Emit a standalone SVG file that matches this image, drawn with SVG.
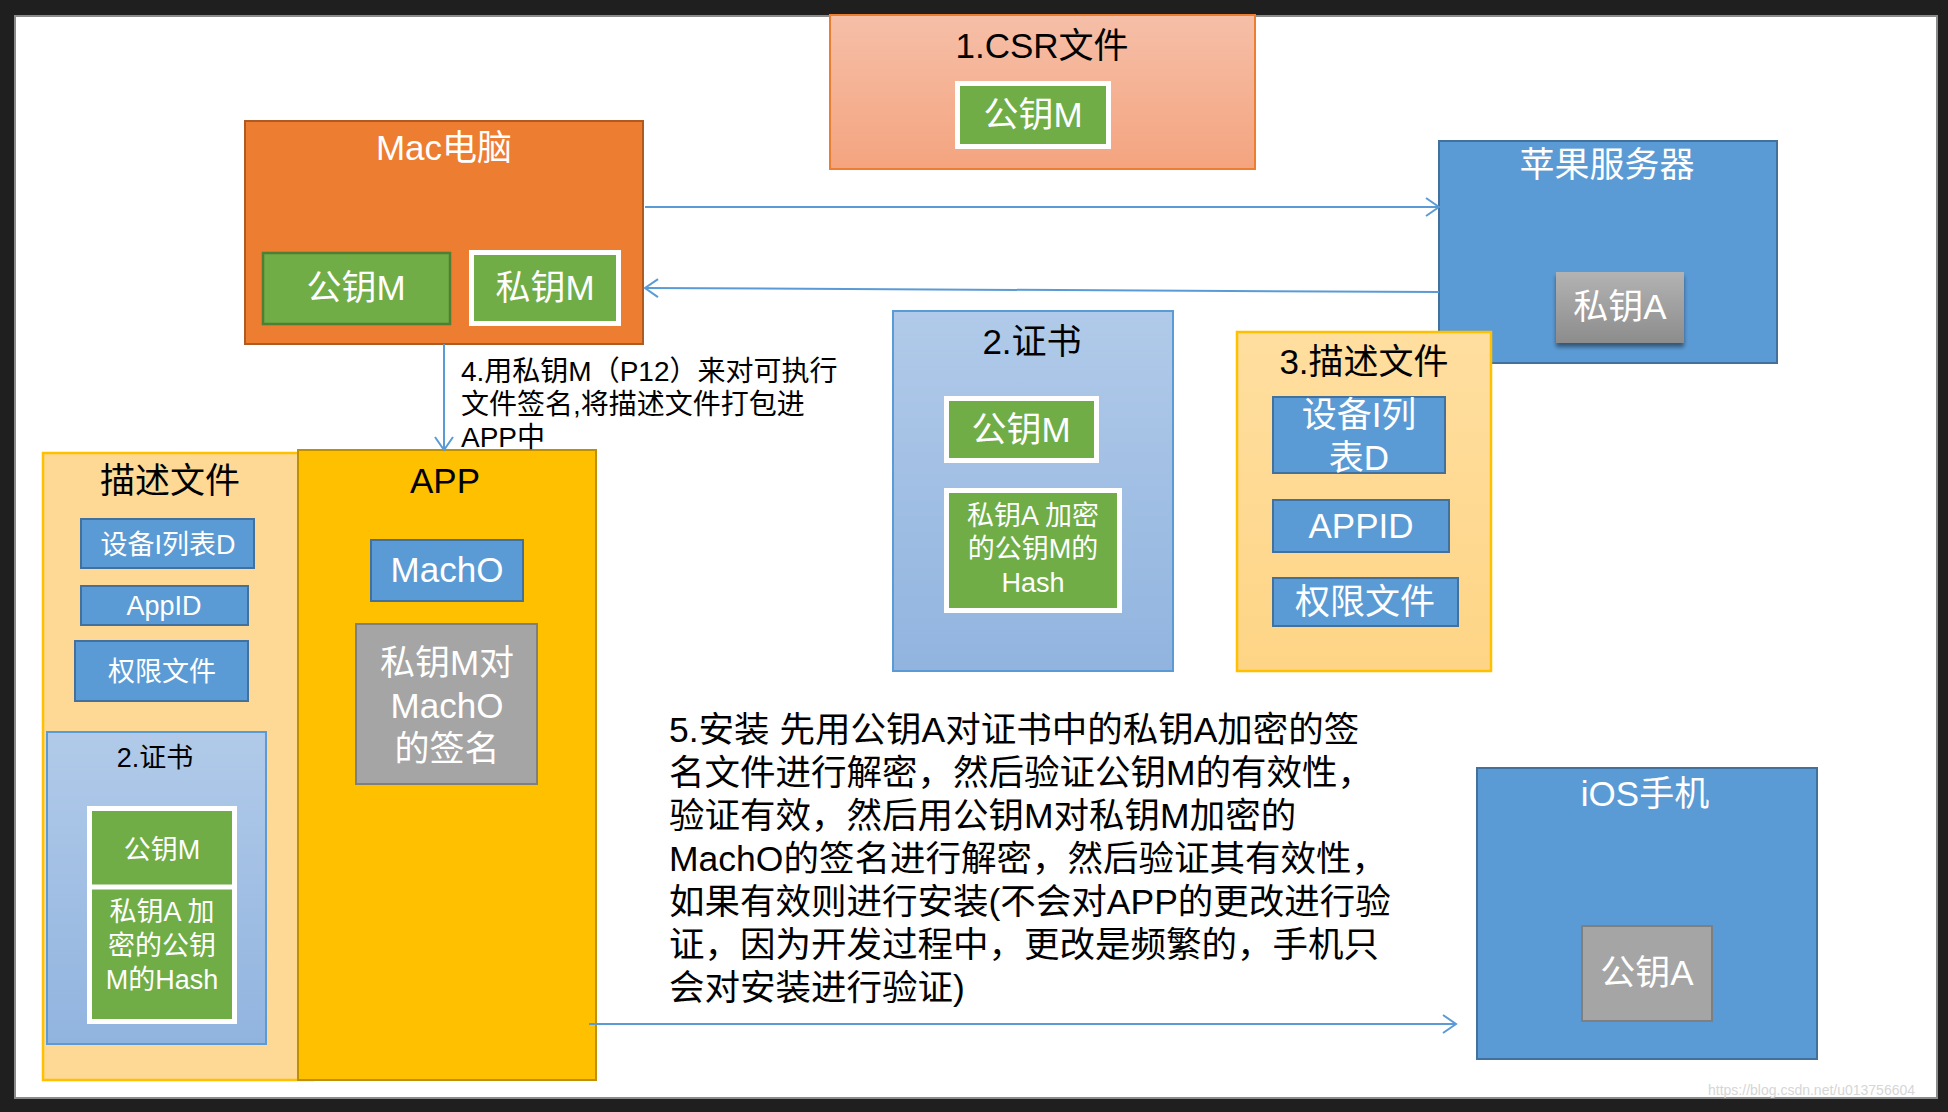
<svg xmlns="http://www.w3.org/2000/svg" width="1948" height="1112" viewBox="0 0 1948 1112">
<defs>
<style>
text{font-family:"Liberation Sans","Noto Sans CJK SC",sans-serif;text-anchor:middle}
.w{fill:#ffffff}
.k{fill:#000000}
.big{font-size:35px}
.sm{font-size:27px}
.blue{fill:#5b9bd5;stroke:#41719c;stroke-width:2}
.green{fill:#70ad47;stroke:#ffffff;stroke-width:5}
.gray{fill:#a5a5a5;stroke:#7f7f7f;stroke-width:2}
.conn{stroke:#5b9bd5;stroke-width:2;fill:none;marker-end:url(#arr)}
</style>
<marker id="arr" markerUnits="userSpaceOnUse" markerWidth="18" markerHeight="20" refX="15" refY="10" orient="auto">
<path d="M2,1 L15,10 L2,19" fill="none" stroke="#5b9bd5" stroke-width="2"/>
</marker>
<linearGradient id="gCsr" x1="0" y1="0" x2="0" y2="1"><stop offset="0" stop-color="#f6bfa8"/><stop offset="1" stop-color="#f4a47f"/></linearGradient>
<linearGradient id="gCert" x1="0" y1="0" x2="0" y2="1"><stop offset="0" stop-color="#b1cae9"/><stop offset="1" stop-color="#91b4df"/></linearGradient>
<linearGradient id="gProf" x1="0" y1="0" x2="0" y2="1"><stop offset="0" stop-color="#ffde9f"/><stop offset="1" stop-color="#fed586"/></linearGradient>
<linearGradient id="gKeyA" x1="0" y1="0" x2="0" y2="1"><stop offset="0" stop-color="#b3b3b3"/><stop offset="1" stop-color="#8c8c8c"/></linearGradient>
<filter id="sh" x="-20%" y="-20%" width="140%" height="150%"><feDropShadow dx="0" dy="4" stdDeviation="2" flood-color="#000" flood-opacity="0.45"/></filter>
</defs>
<rect x="0" y="0" width="1948" height="1112" fill="#1f1f1f"/>
<rect x="15" y="16" width="1922" height="1082" fill="#ffffff" stroke="#8a8a8a" stroke-width="2"/>

<g id="csr">
<rect x="830" y="15" width="425" height="154" fill="url(#gCsr)" stroke="#ed7d31" stroke-width="2"/>
<text class="k big" x="1042" y="58">1.CSR文件</text>
<rect class="green" x="957.5" y="83.5" width="151" height="63"/>
<text class="w big" x="1033" y="127">公钥M</text>
</g>

<g id="mac">
<rect x="245" y="121" width="398" height="223" fill="#ed7d31" stroke="#ae5a21" stroke-width="2"/>
<text class="w big" x="444" y="160">Mac电脑</text>
<rect x="263" y="253" width="187" height="71" fill="#70ad47" stroke="#507e32" stroke-width="2.5"/>
<text class="w big" x="356" y="300">公钥M</text>
<rect class="green" x="471.5" y="252.5" width="147" height="71"/>
<text class="w big" x="545" y="300">私钥M</text>
</g>

<g id="apple-server">
<rect class="blue" x="1439" y="141" width="338" height="222"/>
<text class="w big" x="1607" y="177">苹果服务器</text>
<rect x="1556" y="272" width="128" height="71" fill="url(#gKeyA)" filter="url(#sh)"/>
<text class="w big" x="1620" y="319">私钥A</text>
</g>

<g id="cert">
<rect x="893" y="311" width="280" height="360" fill="url(#gCert)" stroke="#5b9bd5" stroke-width="2"/>
<text class="k big" x="1032" y="354">2.证书</text>
<rect class="green" x="946.5" y="398.5" width="150" height="62"/>
<text class="w big" x="1021" y="442">公钥M</text>
<rect class="green" x="946.5" y="490.5" width="173" height="120"/>
<text class="w sm" x="1033" y="525">私钥A 加密</text>
<text class="w sm" x="1033" y="558">的公钥M的</text>
<text class="w sm" x="1033" y="592">Hash</text>
</g>

<g id="profile">
<rect x="1237" y="332" width="254" height="339" fill="url(#gProf)" stroke="#ffc000" stroke-width="2.5"/>
<text class="k big" x="1364" y="374">3.描述文件</text>
<rect class="blue" x="1273" y="397" width="172" height="76"/>
<text class="w big" x="1359" y="427">设备I列</text>
<text class="w big" x="1359" y="470">表D</text>
<rect class="blue" x="1273" y="500" width="176" height="52"/>
<text class="w big" x="1361" y="538">APPID</text>
<rect class="blue" x="1273" y="578" width="185" height="48"/>
<text class="w big" x="1365" y="614">权限文件</text>
</g>

<g id="app-profile">
<rect x="43" y="453" width="270" height="627" fill="#fdd995" stroke="#ffc000" stroke-width="2.5"/>
<text class="k big" x="170" y="493">描述文件</text>
<rect class="blue" x="81" y="519" width="173" height="49"/>
<text class="w sm" x="168" y="554">设备I列表D</text>
<rect class="blue" x="81" y="586" width="167" height="39"/>
<text class="w sm" x="164" y="615">AppID</text>
<rect class="blue" x="75" y="641" width="173" height="60"/>
<text class="w sm" x="162" y="681">权限文件</text>
<g id="app-cert">
<rect x="47" y="732" width="219" height="312" fill="url(#gCert)" stroke="#5b9bd5" stroke-width="2"/>
<text class="k sm" x="155" y="767">2.证书</text>
<rect class="green" x="89.5" y="808.5" width="145" height="213"/>
<line x1="87" y1="887" x2="237" y2="887" stroke="#ffffff" stroke-width="5"/>
<text class="w sm" x="162" y="859">公钥M</text>
<text class="w sm" x="162" y="921">私钥A 加</text>
<text class="w sm" x="162" y="955">密的公钥</text>
<text class="w sm" x="162" y="989">M的Hash</text>
</g>
</g>

<g id="app">
<rect x="298" y="450" width="298" height="630" fill="#ffc000" stroke="#bf9000" stroke-width="2"/>
<text class="k big" x="445" y="493">APP</text>
<rect class="blue" x="371" y="540" width="152" height="61"/>
<text class="w big" x="447" y="582">MachO</text>
<rect class="gray" x="356" y="624" width="181" height="160"/>
<text class="w big" x="447" y="675">私钥M对</text>
<text class="w big" x="447" y="718">MachO</text>
<text class="w big" x="447" y="761">的签名</text>
</g>

<g id="ios">
<rect class="blue" x="1477" y="768" width="340" height="291"/>
<text class="w big" x="1645" y="806">iOS手机</text>
<rect class="gray" x="1582" y="926" width="130" height="95"/>
<text class="w big" x="1647" y="985">公钥A</text>
</g>

<g id="connectors">
<line class="conn" x1="645" y1="207" x2="1439" y2="207"/>
<line class="conn" x1="1439" y1="292" x2="645" y2="288"/>
<line class="conn" x1="444" y1="344" x2="444" y2="450"/>
<line class="conn" x1="589" y1="1024" x2="1456" y2="1024"/>
</g>

<g id="labels">
<text class="k" style="text-anchor:start;font-size:28px" x="461" y="381">4.用私钥M（P12）来对可执行</text>
<text class="k" style="text-anchor:start;font-size:28px" x="461" y="414">文件签名,将描述文件打包进</text>
<text class="k" style="text-anchor:start;font-size:28px" x="461" y="447">APP中</text>
<text class="k" style="text-anchor:start;font-size:35.5px" x="669" y="742">5.安装 先用公钥A对证书中的私钥A加密的签</text>
<text class="k" style="text-anchor:start;font-size:35.5px" x="669" y="785">名文件进行解密，然后验证公钥M的有效性，</text>
<text class="k" style="text-anchor:start;font-size:35.5px" x="669" y="828">验证有效，然后用公钥M对私钥M加密的</text>
<text class="k" style="text-anchor:start;font-size:35.5px" x="669" y="871">MachO的签名进行解密，然后验证其有效性，</text>
<text class="k" style="text-anchor:start;font-size:35.5px" x="669" y="914">如果有效则进行安装(不会对APP的更改进行验</text>
<text class="k" style="text-anchor:start;font-size:35.5px" x="669" y="957">证，因为开发过程中，更改是频繁的，手机只</text>
<text class="k" style="text-anchor:start;font-size:35.5px" x="669" y="1000">会对安装进行验证)</text>
<text style="text-anchor:start;font-size:14px;fill:#d6d6d6" x="1708" y="1095">https://blog.csdn.net/u013756604</text>
</g>
</svg>
